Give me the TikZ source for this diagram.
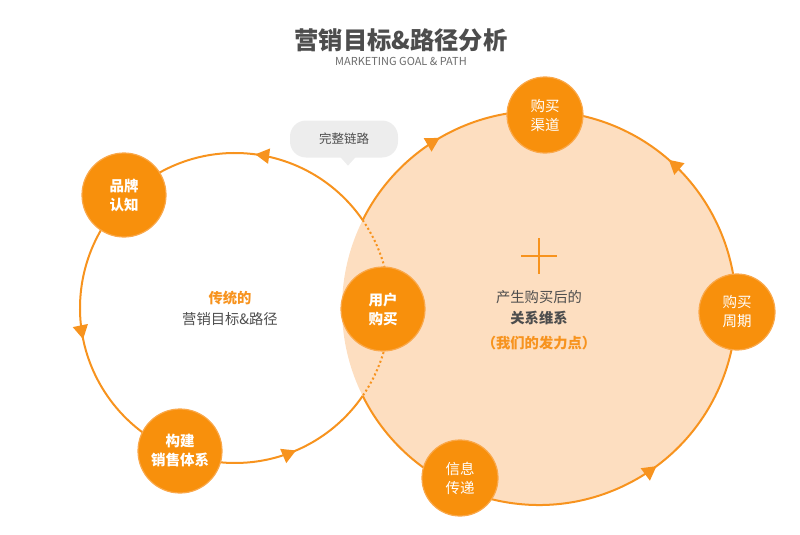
\documentclass[tikz,border=0pt]{standalone}
\usepackage{fontspec}
\setmainfont{Noto Sans CJK SC}
\usetikzlibrary{arrows.meta,decorations.markings}

\definecolor{ringorange}{HTML}{F7931E}
\definecolor{stagefill}{HTML}{F8900C}
\definecolor{stageedge}{HTML}{FAA84A}
\definecolor{peach}{HTML}{FDDEC0}
\definecolor{textgrey}{HTML}{4D4D4D}
\definecolor{subgrey}{HTML}{6B6B6B}
\definecolor{bubblegrey}{HTML}{EDEDED}

\tikzset{
  stage/.style={circle,fill=stagefill,draw=stageedge,line width=1.2pt,text=white,
    align=center,inner sep=0pt,font=\fontsize{14.5}{19}\selectfont},
  bigstage/.style={stage,minimum size=84pt,font=\bfseries\fontsize{14.5}{19}\selectfont},
  smallstage/.style={stage,minimum size=76pt},
  ring/.style={draw=ringorange,line width=2pt},
  flowtip/.tip={Triangle[length=14pt,width=15pt]}
}

\begin{document}
\begin{tikzpicture}[x=1pt,y=-1pt]
\useasboundingbox (0,0) rectangle (800,535);

% heading
\node[font=\bfseries\fontsize{24.3}{27}\selectfont,text=textgrey] (title) at (401,40) {营销目标\&路径分析};
\node[font=\fontsize{11}{12}\selectfont,text=subgrey] (subtitle) at (401,61) {MARKETING GOAL \& PATH};

% big circle, filled
\fill[peach] (539,308) circle[radius=197];

% left circle: dotted inside the big one
\draw[ringorange,line width=2pt,dash pattern=on 2pt off 2.6pt]
  (235,308) ++(-34.5:155) arc[start angle=-34.5,end angle=34.5,radius=155];
\draw[ring,postaction=decorate,decoration={markings,
    mark=at position 0.165 with {\arrow{flowtip}},
    mark=at position 0.54 with {\arrow{flowtip}},
    mark=at position 0.889 with {\arrow{flowtip}}}]
  (235,308) ++(325.5:155) arc[start angle=325.5,end angle=34.5,radius=155];

% big circle outline
\draw[ring,postaction=decorate,decoration={markings,
    mark=at position 0.326 with {\arrow{flowtip}},
    mark=at position 0.659 with {\arrow{flowtip}},
    mark=at position 0.892 with {\arrowreversed{flowtip}}}]
  (539,308) ++(513.4:197) arc[start angle=513.4,end angle=206.6,radius=197];

% cross
\draw[ringorange,line width=1.3pt] (521,256) -- (557,256) (539,238) -- (539,274);

% speech bubble
\node[fill=bubblegrey,rounded corners=16pt,minimum width=108pt,minimum height=37pt,
  text=textgrey,font=\fontsize{12.5}{14}\selectfont] (bubble) at (344,139) {完整链路};
\fill[bubblegrey] (bubble.south) ++(-4,-1) -- ++(8,9) -- ++(8,-9) -- cycle;

% stages
\node[bigstage] (brand) at (124,195) {品牌\\认知};
\node[bigstage] (sales) at (180,451) {构建\\销售体系};
\node[bigstage] (buy) at (383,309) {用户\\购买};
\node[smallstage] (channel) at (545,115) {购买\\渠道};
\node[smallstage] (cycle) at (737,312) {购买\\周期};
\node[smallstage] (info) at (460,478) {信息\\传递};

% middle texts
\node[align=center,font=\fontsize{14.3}{21}\selectfont,text=textgrey] (oldpath) at (230,308)
  {\textcolor{ringorange}{\bfseries 传统的}\\营销目标\&路径};
\node[align=center,font=\fontsize{14.3}{21}\selectfont,text=textgrey] (relation) at (539,320)
  {产生购买后的\\{\bfseries 关系维系}\\[4pt]\textcolor{ringorange}{\bfseries （我们的发力点）}};
\end{tikzpicture}
\end{document}
